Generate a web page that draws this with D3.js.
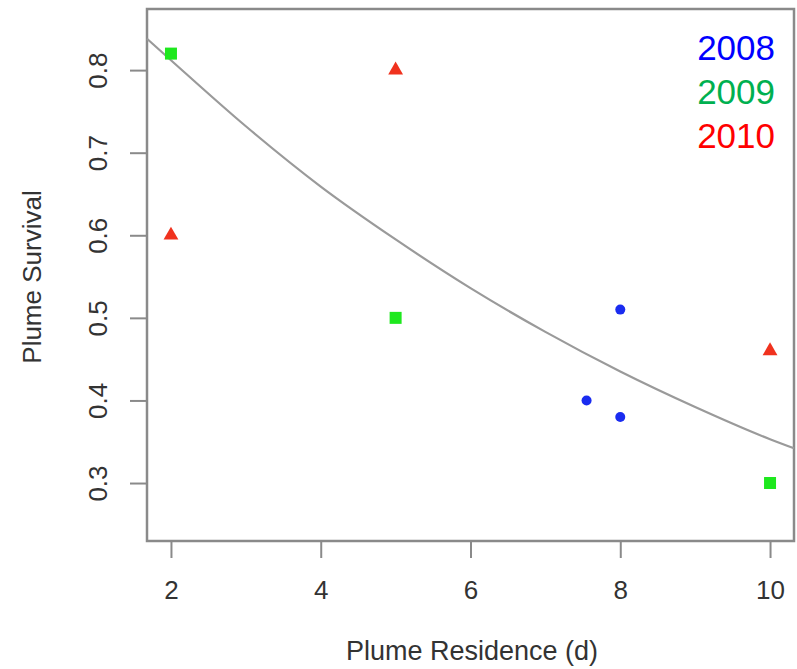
<!DOCTYPE html>
<html><head><meta charset="utf-8">
<script src="https://cdn.jsdelivr.net/npm/d3@7/dist/d3.min.js"></script>
<style>body{margin:0;background:#fff}svg{display:block}</style>
</head><body>
<svg id="c" width="797" height="669"></svg>
<script>
// data
const d2008x = [7.55, 8, 8];
const d2008y = [0.40, 0.51, 0.38];
const d2009x = [2, 5, 10];
const d2009y = [0.82, 0.50, 0.30];
const d2010x = [2, 5, 10];
const d2010y = [0.60, 0.80, 0.46];
const curveX = [1.68, 2, 3, 4, 5, 6, 7, 8, 9, 10, 10.32];
const curveY = [0.838, 0.812, 0.732, 0.659, 0.595, 0.536, 0.483, 0.435, 0.392, 0.353, 0.342];
const xTicks = [2, 4, 6, 8, 10];
const yTicks = [0.3, 0.4, 0.5, 0.6, 0.7, 0.8];
const legendLabels = ["2008", "2009", "2010"];

const svg = d3.select("#c");
const L = 147, R = 794, T = 9, B = 541;
const x = d3.scaleLinear().domain([1.68, 10.32]).range([L, R]);
const y = d3.scaleLinear().domain([0.2298, 0.874]).range([B, T]);
const axisCol = "#8a8a8a", textCol = "#333333";
const font = "Liberation Sans, Arial, sans-serif";

// frame
svg.append("rect").attr("x", L).attr("y", T).attr("width", R - L).attr("height", B - T)
  .attr("fill", "none").attr("stroke", axisCol).attr("stroke-width", 2.5);

// x axis
const xa = svg.append("g").attr("transform", `translate(0,${B})`)
  .call(d3.axisBottom(x).tickValues(xTicks).tickSize(17).tickPadding(23).tickFormat(d3.format("d")));
xa.select(".domain").remove();
xa.selectAll("line").attr("stroke", axisCol).attr("stroke-width", 2);
xa.selectAll("text").attr("fill", textCol).style("font-family", font).style("font-size", "26px");

// y axis
const ya = svg.append("g").attr("transform", `translate(${L},0)`)
  .call(d3.axisLeft(y).tickValues(yTicks).tickSize(17).tickPadding(0).tickFormat(d3.format(".1f")));
ya.select(".domain").remove();
ya.selectAll("line").attr("stroke", axisCol).attr("stroke-width", 2);
ya.selectAll("text").attr("fill", textCol).style("font-family", font).style("font-size", "26px")
  .attr("text-anchor", "middle").attr("x", 0).attr("dy", 0)
  .attr("transform", "translate(-40,0) rotate(-90)");

// axis titles
svg.append("text").attr("x", 472).attr("y", 660).attr("text-anchor", "middle")
  .attr("fill", textCol).style("font-family", font).style("font-size", "27px")
  .text("Plume Residence (d)");
svg.append("text").attr("transform", "translate(41,277) rotate(-90)").attr("text-anchor", "middle")
  .attr("fill", textCol).style("font-family", font).style("font-size", "26px")
  .text("Plume Survival");

// fit curve
const curve = curveX.map((v, i) => [v, curveY[i]]);
svg.append("path").datum(curve)
  .attr("d", d3.line().x(d => x(d[0])).y(d => y(d[1])).curve(d3.curveMonotoneX))
  .attr("fill", "none").attr("stroke", "#9a9a9a").attr("stroke-width", 2.2);

// points
svg.append("g").selectAll("circle").data(d2008x.map((v, i) => [v, d2008y[i]])).join("circle")
  .attr("cx", d => x(d[0])).attr("cy", d => y(d[1])).attr("r", 5).attr("fill", "#1a2cf0");
svg.append("g").selectAll("path").data(d2009x.map((v, i) => [v, d2009y[i]])).join("path")
  .attr("d", d3.symbol(d3.symbolSquare, 144))
  .attr("transform", d => `translate(${x(d[0])},${y(d[1])})`).attr("fill", "#1ee81e");
svg.append("g").selectAll("path").data(d2010x.map((v, i) => [v, d2010y[i]])).join("path")
  .attr("d", d3.symbol(d3.symbolTriangle, 95))
  .attr("transform", d => `translate(${x(d[0])},${y(d[1])})`).attr("fill", "#f0321e");

// legend
const legCols = ["#0000ff", "#00b050", "#ff0000"];
svg.append("g").selectAll("text").data(legendLabels).join("text")
  .attr("x", 775).attr("y", (d, i) => 60 + i * 44).attr("text-anchor", "end")
  .attr("fill", (d, i) => legCols[i]).style("font-family", font).style("font-size", "35px")
  .text(d => d);
</script>
</body></html>
